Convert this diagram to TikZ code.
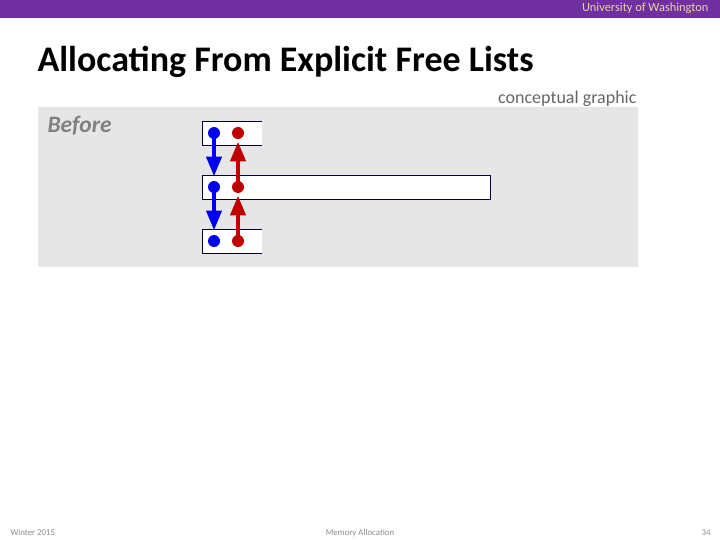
\documentclass[tikz,border=0pt]{standalone}
\usepackage{fontspec}
\setmainfont{Carlito}
\usetikzlibrary{arrows}

\definecolor{uwpurple}{RGB}{112,48,160}
\definecolor{uwgold}{RGB}{232,211,162}
\definecolor{panelgray}{RGB}{230,230,230}
\definecolor{boxline}{RGB}{0,0,64}
\definecolor{ptrblue}{RGB}{0,0,240}
\definecolor{ptrred}{RGB}{192,0,0}

\tikzset{
  dot/.style={circle,inner sep=0pt,minimum size=12pt},
  nextptr/.style={->,line width=3.6pt,ptrblue,shorten >=5pt},
  prevptr/.style={->,line width=3.6pt,ptrred,shorten >=3pt},
  blockline/.style={boxline,line width=0.8pt}
}

\begin{document}
\begin{tikzpicture}[line join=miter,>=triangle 45,x=1pt,y=-1pt]
\useasboundingbox (0,0) rectangle (720,540);
\fill[white] (0,0) rectangle (720,540);
% header bar
\fill[uwpurple] (0,0) rectangle (720,18);
\node[anchor=east,text=uwgold,font=\fontsize{12.4}{14}\selectfont] (uw) at (712,8) {University of Washington};
\node[anchor=west,font=\fontsize{36}{42}\selectfont\bfseries] (title) at (34,62) {Allocating From Explicit Free Lists};
\node[anchor=east,text=black!60,font=\fontsize{18}{21}\selectfont] (note) at (640,99) {conceptual graphic};
% panel
\fill[panelgray] (38,107) rectangle (638,267);
\node[anchor=west,text=black!50,font=\fontsize{23.5}{28}\selectfont\bfseries\itshape] (before) at (44,126) {Before};
% blocks
\fill[white] (202,121) rectangle (262,145);
\draw[blockline] (262,121) -- (202,121) -- (202,145) -- (262,145);
\draw[blockline,fill=white] (202,175) rectangle (490,199);
\fill[white] (202,229) rectangle (262,253);
\draw[blockline] (262,229) -- (202,229) -- (202,253) -- (262,253);
% pointers
\node[dot,fill=ptrblue] (b1) at (214,133) {};
\node[dot,fill=ptrblue] (b2) at (214,187) {};
\node[dot,fill=ptrblue] (b3) at (214,241) {};
\node[dot,fill=ptrred] (r1) at (238,133) {};
\node[dot,fill=ptrred] (r2) at (238,187) {};
\node[dot,fill=ptrred] (r3) at (238,241) {};
\draw[nextptr] (b1.center) -- (b2.north);
\draw[nextptr] (b2.center) -- (b3.north);
\draw[prevptr] (r2.center) -- (r1.south);
\draw[prevptr] (r3.center) -- (r2.south);
% footer
\node[anchor=west,text=black!45,font=\fontsize{8.8}{10}\selectfont] (term) at (7,533) {Winter 2015};
\node[text=black!45,font=\fontsize{8.8}{10}\selectfont] (topic) at (360,533) {Memory Allocation};
\node[anchor=east,text=black!45,font=\fontsize{8.8}{10}\selectfont] (page) at (714,533) {34};
\end{tikzpicture}
\end{document}
